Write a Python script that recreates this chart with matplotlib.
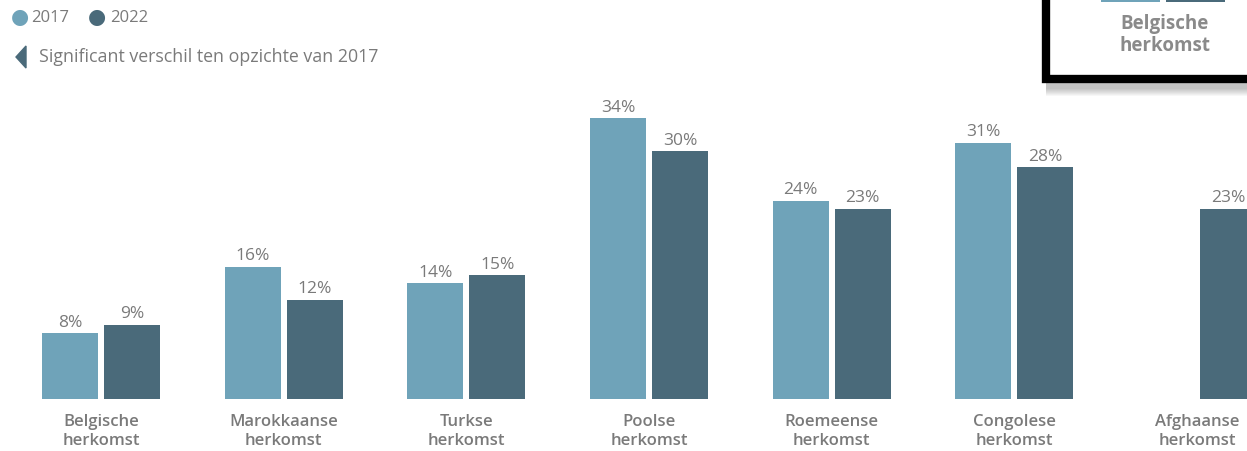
import numpy as np
import matplotlib.pyplot as plt
from matplotlib.patches import Rectangle, Polygon

categories = ['Belgische\nherkomst', 'Marokkaanse\nherkomst', 'Turkse\nherkomst',
              'Poolse\nherkomst', 'Roemeense\nherkomst', 'Congolese\nherkomst',
              'Afghaanse\nherkomst']
vals_2017 = [8, 16, 14, 34, 24, 31, None]
vals_2022 = [9, 12, 15, 30, 23, 28, 23]
years = ['2017', '2022']

c17 = '#6fa3b9'
c22 = '#4a6a7a'
txt = '#7a7a7a'
plt.rcParams['font.family'] = ['Open Sans', 'DejaVu Sans']

W, H = 1247, 452
fig = plt.figure(figsize=(W / 100, H / 100), dpi=100)

# main bar axes, laid out in pixels
base_px, top_px = 400, 90
ax = fig.add_axes([0, (H - base_px) / H, 1, (base_px - top_px) / H])
step = 182.7
x = np.arange(len(categories))
bw = 56 / step
off = 31 / step
ax.set_xlim(-101 / step, (W - 101) / step)
ax.set_ylim(0, (base_px - top_px) / 8.27)

for i in x:
    if vals_2017[i] is not None:
        ax.bar(i - off, vals_2017[i], bw, color=c17, edgecolor='none')
        ax.text(i - off, vals_2017[i] + 0.4, f'{vals_2017[i]}%', ha='center', va='bottom',
                fontsize=12.5, color=txt)
    ax.bar(i + off, vals_2022[i], bw, color=c22, edgecolor='none')
    ax.text(i + off, vals_2022[i] + 0.4, f'{vals_2022[i]}%', ha='center', va='bottom',
            fontsize=12.5, color=txt)
    ax.text(i, -1.65, categories[i], ha='center', va='top', fontsize=12,
            color=txt, fontweight='semibold', linespacing=1.3)

ax.axis('off')

# legend
fig.text(20 / W, 1 - 18 / H, '\u25CF', color=c17, fontsize=15, ha='center', va='center')
fig.text(31 / W, 1 - 18 / H, years[0], color=txt, fontsize=12, va='center')
fig.text(97 / W, 1 - 18 / H, '\u25CF', color=c22, fontsize=15, ha='center', va='center')
fig.text(110 / W, 1 - 18 / H, years[1], color=txt, fontsize=12, va='center')
fig.patches.append(Polygon([[26 / W, 1 - 47 / H], [26 / W, 1 - 69 / H], [16 / W, 1 - 58 / H]],
                           closed=True, transform=fig.transFigure, color=c22))
fig.text(39 / W, 1 - 57 / H, 'Significant verschil ten opzichte van 2017', color=txt,
         fontsize=12.8, va='center')

# tooltip box in the corner, with a soft drop shadow
for k in range(8):
    fig.patches.append(Rectangle((1046 / W, 1 - (97 - k) / H), (W - 1046) / W, 14 / H,
                                 transform=fig.transFigure, color='black', alpha=0.03, lw=0,
                                 zorder=-2))
fig.patches.append(Rectangle((1046 / W, 1 - 80 / H), (W - 1046) / W + 0.01, 80 / H + 0.01,
                             transform=fig.transFigure, facecolor='white',
                             edgecolor='black', lw=6, zorder=-1))
tip = fig.add_axes([1098 / W, 1 - 3 / H, 130 / W, 3 / H], zorder=5)
tip.bar([0, 1], [vals_2017[0], vals_2022[0]], 0.92, color=[c17, c22])
tip.set_xlim(-0.5, 1.5)
tip.set_ylim(0, 1)
tip.axis('off')
fig.text(1165 / W, 1 - 35 / H, categories[0], ha='center', va='center', fontsize=13.5,
         color='#8a8a8a', fontweight='bold', linespacing=1.15, zorder=5)

fig.savefig('out.png', dpi=100)
